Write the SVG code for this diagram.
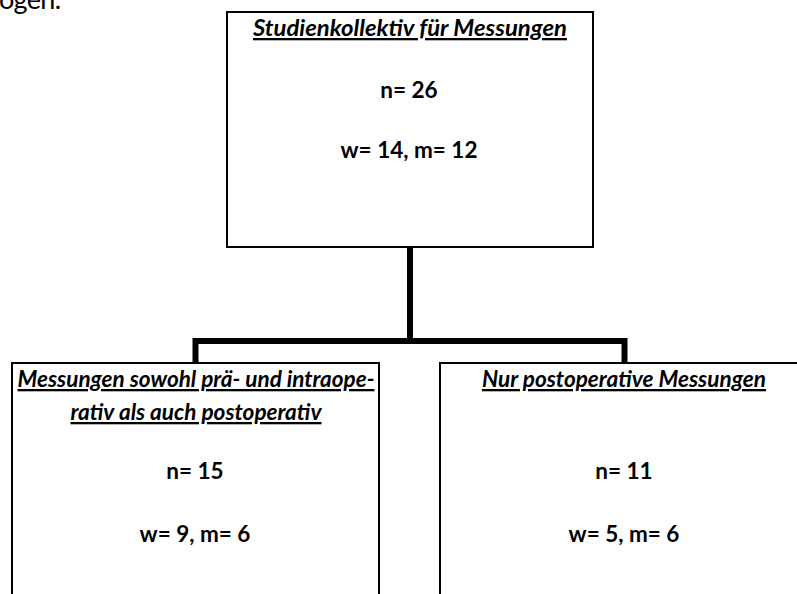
<svg xmlns="http://www.w3.org/2000/svg" width="797" height="594" viewBox="0 0 797 594">
<style>
.box{fill:#fff;stroke:#000;stroke-width:2}
.conn{fill:none;stroke:#000;stroke-width:6;stroke-linejoin:miter}
text{font-family:Lato,"Open Sans","Liberation Sans",sans-serif;fill:#000}
.t{font-weight:bold;font-style:italic;font-size:23px;text-anchor:middle;text-decoration:underline}
.v{font-weight:bold;font-size:22.5px;text-anchor:middle}
.body{font-size:27px}
</style>
<rect width="797" height="594" fill="#fff"/>
<text class="body" x="-1" y="9" textLength="62">ogen.</text>
<g id="connectors">
<path class="conn" d="M410 247 V341"/>
<path class="conn" d="M195.5 363 V341 H624.5 V363"/>
</g>
<g id="top">
<rect class="box" x="227" y="12" width="366" height="235"/>
<text class="t" x="410" y="36" textLength="314" lengthAdjust="spacingAndGlyphs">Studienkollektiv für Messungen</text>
<text class="v" x="409" y="98">n= 26</text>
<text class="v" x="409" y="158">w= 14, m= 12</text>
</g>
<g id="left">
<rect class="box" x="12" y="363" width="367" height="300"/>
<text class="t" x="196" y="387" textLength="357" lengthAdjust="spacingAndGlyphs">Messungen sowohl prä- und intraope-</text>
<text class="t" x="196" y="420" textLength="251" lengthAdjust="spacingAndGlyphs">rativ als auch postoperativ</text>
<text class="v" x="195" y="479">n= 15</text>
<text class="v" x="195" y="542">w= 9, m= 6</text>
</g>
<g id="right">
<rect class="box" x="440" y="363" width="368" height="300"/>
<text class="t" x="624" y="387" textLength="284" lengthAdjust="spacingAndGlyphs">Nur postoperative Messungen</text>
<text class="v" x="624" y="479">n= 11</text>
<text class="v" x="624" y="542">w= 5, m= 6</text>
</g>
</svg>
